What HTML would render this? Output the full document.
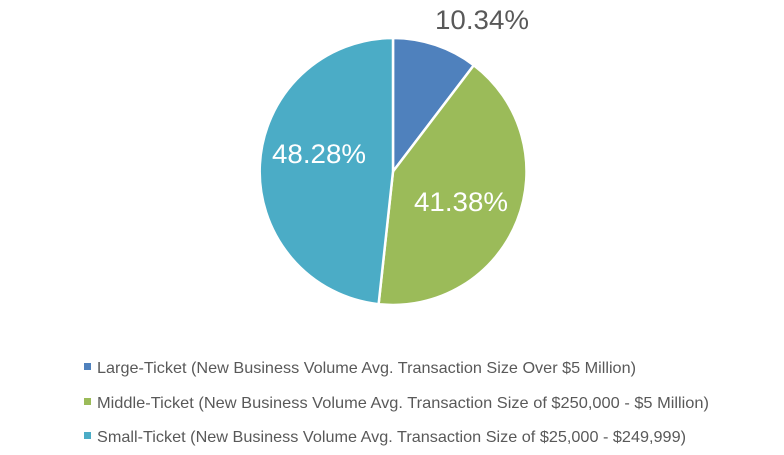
<!DOCTYPE html>
<html><head><meta charset="utf-8"><style>
html,body{margin:0;padding:0;background:#fff;}
svg{display:block;}
text{font-family:"Liberation Sans",sans-serif;}
</style></head><body>
<svg width="784" height="455" viewBox="0 0 784 455" xmlns="http://www.w3.org/2000/svg">
<rect width="784" height="455" fill="#fff"/>
<g stroke="#fff" stroke-width="2.5" stroke-linejoin="round">
<path d="M393,171.5 L393,38 A133.5,133.5 0 0 1 473.8,65.2 Z" fill="#4f81bd"/>
<path d="M393,171.5 L473.8,65.2 A133.5,133.5 0 0 1 378.6,304.2 Z" fill="#9bbb59"/>
<path d="M393,171.5 L378.6,304.2 A133.5,133.5 0 0 1 393,38 Z" fill="#4bacc6"/>
</g>
<text x="435" y="29" font-size="27" fill="#595959" textLength="94" lengthAdjust="spacingAndGlyphs">10.34%</text>
<text x="272" y="163" font-size="27" fill="#fff" textLength="94" lengthAdjust="spacingAndGlyphs">48.28%</text>
<text x="414" y="211" font-size="27" fill="#fff" textLength="94" lengthAdjust="spacingAndGlyphs">41.38%</text>
<rect x="84" y="363" width="7" height="7" fill="#4f81bd"/>
<rect x="84" y="398" width="7" height="7" fill="#9bbb59"/>
<rect x="84" y="432" width="7" height="7" fill="#4bacc6"/>
<text x="97" y="373" font-size="16" fill="#595959" textLength="539" lengthAdjust="spacingAndGlyphs">Large-Ticket (New Business Volume Avg. Transaction Size Over $5 Million)</text>
<text x="97" y="408" font-size="16" fill="#595959" textLength="612" lengthAdjust="spacingAndGlyphs">Middle-Ticket (New Business Volume Avg. Transaction Size of $250,000 - $5 Million)</text>
<text x="97" y="442" font-size="16" fill="#595959" textLength="589" lengthAdjust="spacingAndGlyphs">Small-Ticket (New Business Volume Avg. Transaction Size of $25,000 - $249,999)</text>
</svg>
</body></html>
